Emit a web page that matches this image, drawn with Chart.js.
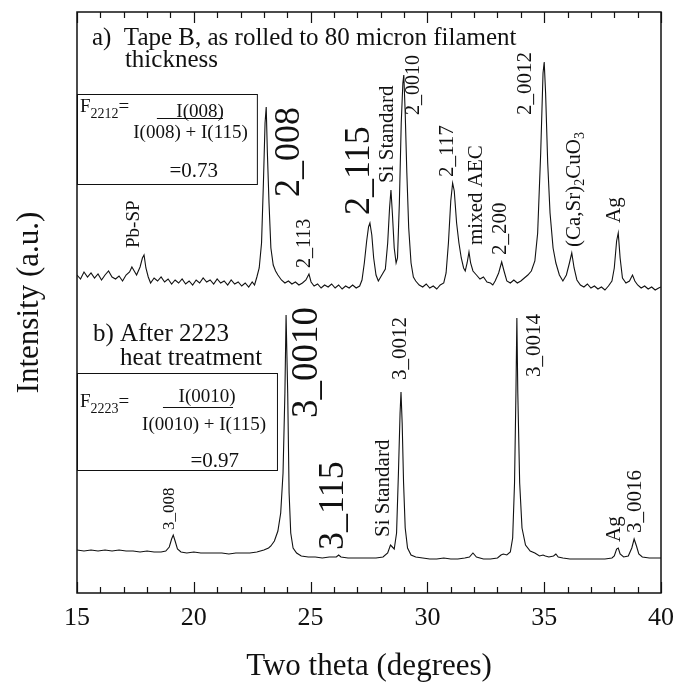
<!DOCTYPE html>
<html>
<head>
<meta charset="utf-8">
<script src="https://cdn.jsdelivr.net/npm/chart.js@4.4.1/dist/chart.umd.min.js"></script>
<style>
  html, body { margin: 0; padding: 0; background: #fff; }
  #wrap { width: 689px; height: 683px; }
</style>
</head>
<body>
<div id="wrap"><canvas id="grafico" width="689" height="683"></canvas></div>
<script>
// a) tape B as rolled (2212 phase) - offset up
const twoThetaA = [
  15.0, 15.15, 15.3, 15.45, 15.6, 15.75, 15.9, 16.05, 16.2, 16.35, 16.5, 16.65, 16.8, 16.95, 17.1, 17.25, 17.35, 17.45, 17.55, 17.7,
  17.8, 17.87, 17.95, 18.05, 18.15, 18.3, 18.45, 18.6, 18.75, 18.9, 19.05, 19.2, 19.35, 19.5, 19.65, 19.8, 19.95, 20.1, 20.25, 20.4,
  20.55, 20.7, 20.85, 21.0, 21.15, 21.3, 21.45, 21.6, 21.75, 21.9, 22.05, 22.2, 22.35, 22.5, 22.6, 22.7, 22.8, 22.9, 22.98, 23.05,
  23.1, 23.15, 23.22, 23.3, 23.4, 23.5, 23.6, 23.75, 23.9, 24.05, 24.2, 24.35, 24.5, 24.65, 24.8, 24.93, 25.02, 25.15, 25.3, 25.45,
  25.6, 25.75, 25.9, 26.05, 26.2, 26.35, 26.5, 26.65, 26.8, 26.95, 27.1, 27.2, 27.3, 27.4, 27.48, 27.54, 27.62, 27.7, 27.8, 27.9,
  28.0, 28.1, 28.2, 28.3, 28.38, 28.44, 28.5, 28.58, 28.66, 28.72, 28.8, 28.88, 28.95, 28.99, 29.05, 29.12, 29.2, 29.3, 29.4, 29.5,
  29.65, 29.8, 29.95, 30.1, 30.25, 30.4, 30.55, 30.7, 30.8, 30.9, 31.0, 31.08, 31.15, 31.25, 31.35, 31.45, 31.55, 31.62, 31.7, 31.78,
  31.85, 31.95, 32.1, 32.25, 32.4, 32.55, 32.7, 32.8, 32.9, 33.05, 33.18, 33.28, 33.4, 33.55, 33.7, 33.85, 34.0, 34.15, 34.3, 34.45,
  34.6, 34.72, 34.85, 34.95, 35.0, 35.06, 35.15, 35.25, 35.38, 35.5, 35.65, 35.8, 35.95, 36.08, 36.18, 36.28, 36.4, 36.55, 36.7, 36.85,
  37.0, 37.15, 37.3, 37.45, 37.6, 37.75, 37.9, 38.0, 38.1, 38.17, 38.25, 38.35, 38.5, 38.65, 38.78, 38.88, 39.0, 39.15, 39.3, 39.45,
  39.6, 39.75, 39.9, 40.0
];
const intensityA = [
  318, 314, 321, 316, 320, 315, 319, 313, 318, 322, 316, 314, 317, 312, 318, 321, 326, 322, 318, 326,
  335, 338, 325, 316, 310, 315, 312, 316, 311, 314, 309, 313, 310, 314, 309, 312, 308, 313, 310, 315,
  311, 313, 309, 314, 310, 312, 308, 313, 309, 311, 307, 310, 306, 311, 308, 316, 325, 350, 410, 470,
  486, 440, 390, 345, 328, 322, 318, 313, 310, 312, 309, 311, 308, 310, 313, 319, 311, 307, 309, 305,
  308, 306, 309, 305, 308, 304, 307, 305, 308, 305, 307, 313, 330, 352, 366, 370, 358, 335, 318, 312,
  316, 320, 324, 350, 385, 403, 380, 345, 330, 335, 390, 470, 510, 518, 480, 420, 365, 330, 316, 312,
  308, 306, 309, 305, 307, 304, 308, 310, 320, 350, 392, 410, 402, 370, 350, 335, 325, 322, 330, 341,
  330, 322, 318, 314, 316, 311, 310, 308, 312, 320, 331, 322, 312, 310, 313, 310, 312, 315, 318, 322,
  332, 360, 440, 520, 531, 500, 430, 380, 345, 330, 318, 312, 318, 330, 340, 325, 313, 308, 306, 309,
  305, 307, 304, 306, 303, 307, 312, 325, 352, 360, 335, 315, 310, 312, 318, 312, 308, 305, 307, 304,
  306, 303, 305, 306
];

// b) after 2223 heat treatment
const twoThetaB = [
  15.0, 15.3, 15.6, 15.9, 16.2, 16.5, 16.8, 17.1, 17.4, 17.7, 18.0, 18.3, 18.6, 18.8, 18.95, 19.05, 19.12, 19.2, 19.3, 19.45,
  19.7, 20.0, 20.3, 20.6, 20.9, 21.2, 21.5, 21.8, 22.1, 22.4, 22.7, 23.0, 23.2, 23.3, 23.45, 23.6, 23.72, 23.82, 23.9, 23.95,
  24.02, 24.08, 24.15, 24.25, 24.4, 24.6, 24.9, 25.2, 25.5, 25.8, 26.1, 26.2, 26.3, 26.6, 26.9, 27.2, 27.5, 27.8, 28.1, 28.3,
  28.42, 28.5, 28.58, 28.68, 28.76, 28.83, 28.87, 28.92, 28.98, 29.05, 29.15, 29.3, 29.5, 29.8, 30.1, 30.4, 30.7, 31.0, 31.3, 31.6,
  31.8, 31.95, 32.1, 32.4, 32.7, 33.0, 33.15, 33.25, 33.4, 33.55, 33.65, 33.73, 33.79, 33.83, 33.87, 33.95, 34.05, 34.2, 34.4, 34.6,
  34.8, 34.95, 35.05, 35.2, 35.4, 35.5, 35.6, 35.8, 36.1, 36.4, 36.7, 37.0, 37.3, 37.6, 37.9, 38.0, 38.1, 38.17, 38.25, 38.4,
  38.6, 38.75, 38.85, 38.95, 39.05, 39.2, 39.5, 39.8, 40.0
];
const intensityB = [
  43, 42, 43, 42, 43, 42, 43, 42, 42, 41, 42, 41, 41, 42, 46, 54, 58, 52, 44, 41,
  40, 41, 40, 40, 40, 40, 39, 40, 40, 40, 41, 43, 45, 47, 52, 62, 80, 120, 200, 278,
  200, 100, 60, 45, 40, 37, 36, 36, 35, 36, 36, 38, 36, 35, 35, 35, 35, 35, 36, 40,
  48, 46, 44, 60, 120, 180, 201, 170, 110, 65, 45, 38, 36, 35, 34, 34, 35, 34, 34, 35,
  36, 40, 36, 34, 34, 35, 38, 39, 38, 41, 55, 110, 200, 275, 200, 110, 65, 48, 42, 40,
  37, 38, 37, 36, 37, 39, 36, 35, 34, 34, 34, 34, 34, 34, 35, 37, 44, 45, 39, 36,
  37, 45, 54, 47, 39, 36, 35, 35, 35
];

const xTickValues = [15, 20, 25, 30, 35, 40];
const xMinorTicks = [16, 17, 18, 19, 21, 22, 23, 24, 26, 27, 28, 29, 31, 32, 33, 34, 36, 37, 38, 39];

const SERIF = "'Liberation Serif', 'Times New Roman', serif";
const INK = '#111';

// peak labels, written bottom-to-top: x = centre (deg), y = lower end (a.u.)
const peakLabels = [
  { parts: ['Pb-SP'], x: 17.44, y: 345, size: 19 },
  { parts: ['2_008'], x: 24.08, y: 396, size: 36 },
  { parts: ['2_113'], x: 24.76, y: 325, size: 20 },
  { parts: ['2_115'], x: 27.11, y: 378, size: 36 },
  { parts: ['Si Standard'], x: 28.27, y: 410, size: 21 },
  { parts: ['2_0010'], x: 29.43, y: 478, size: 20 },
  { parts: ['2_117'], x: 30.88, y: 416, size: 21 },
  { parts: ['mixed AEC'], x: 32.08, y: 348, size: 21 },
  { parts: ['2_200'], x: 33.11, y: 338, size: 21 },
  { parts: ['2_0012'], x: 34.18, y: 478, size: 21 },
  { parts: ['(Ca,Sr)', '_2', 'CuO', '_3'], x: 36.28, y: 346, size: 21 },
  { parts: ['Ag'], x: 38.03, y: 370, size: 21 },
  { parts: ['3_008'], x: 18.94, y: 63, size: 17 },
  { parts: ['3_0010'], x: 24.85, y: 175, size: 37 },
  { parts: ['3_115'], x: 26.0, y: 43, size: 36 },
  { parts: ['Si Standard'], x: 28.1, y: 56, size: 21 },
  { parts: ['3_0012'], x: 28.83, y: 213, size: 21 },
  { parts: ['3_0014'], x: 34.6, y: 216, size: 21 },
  { parts: ['Ag'], x: 37.99, y: 51, size: 21 },
  { parts: ['3_0016'], x: 38.89, y: 60, size: 21 }
];

// horizontal notes on the baseline
const notes = [
  { text: 'a)  Tape B, as rolled to 80 micron filament', x: 15.64, y: 548, size: 25, align: 'left' },
  { text: 'thickness', x: 17.05, y: 526, size: 25, align: 'left' },
  { text: 'b) After 2223', x: 15.68, y: 252, size: 25, align: 'left' },
  { text: 'heat treatment', x: 16.84, y: 228, size: 25, align: 'left' },
  { text: 'I(008)', x: 20.27, y: 476, size: 19, align: 'center' },
  { text: 'I(008) + I(115)', x: 19.86, y: 455, size: 19, align: 'center' },
  { text: '=0.73', x: 20.0, y: 416, size: 21, align: 'center' },
  { text: 'I(0010)', x: 20.57, y: 191, size: 19, align: 'center' },
  { text: 'I(0010) + I(115)', x: 20.44, y: 163, size: 19, align: 'center' },
  { text: '=0.97', x: 20.9, y: 126, size: 21, align: 'center' }
];
const fractions = [
  { x0: 15.13, y: 481, sub: '2212' },
  { x0: 15.13, y: 186, sub: '2223' }
];
const fracLines = [
  { x1: 18.42, x2: 21.25, y: 475 },
  { x1: 18.68, x2: 21.68, y: 186 }
];
const boxes = [
  { x1: 15.0, x2: 22.7, y1: 499, y2: 409 },
  { x1: 15.0, x2: 23.56, y1: 220, y2: 123 }
];

function drawParts(ctx, parts, size) {
  let dx = 0;
  parts.forEach(p => {
    if (p.startsWith('_') && p.length === 2) {
      const s = Math.round(size * 0.65);
      ctx.font = s + 'px ' + SERIF;
      ctx.fillText(p.slice(1), dx, size * 0.28);
      dx += ctx.measureText(p.slice(1)).width;
    } else {
      ctx.font = size + 'px ' + SERIF;
      ctx.fillText(p, dx, 0);
      dx += ctx.measureText(p).width;
    }
  });
}

const annotPlugin = {
  id: 'annot',
  afterDraw(chart) {
    const ctx = chart.ctx;
    const xs = chart.scales.x, ys = chart.scales.y;
    const a = chart.chartArea;
    ctx.save();
    ctx.strokeStyle = INK;
    ctx.fillStyle = INK;

    // frame
    ctx.lineWidth = 1.5;
    ctx.strokeRect(a.left, a.top, a.right - a.left, a.bottom - a.top);

    // inward ticks top and bottom
    ctx.lineWidth = 1.2;
    const tick = (v, len) => {
      const px = Math.round(xs.getPixelForValue(v)) + 0.5;
      ctx.beginPath();
      ctx.moveTo(px, a.bottom); ctx.lineTo(px, a.bottom - len);
      ctx.moveTo(px, a.top); ctx.lineTo(px, a.top + len);
      ctx.stroke();
    };
    xTickValues.forEach(v => tick(v, 11));
    xMinorTicks.forEach(v => tick(v, 6));

    // boxes + fraction bars
    ctx.lineWidth = 1;
    boxes.forEach(b => {
      const x1 = xs.getPixelForValue(b.x1), x2 = xs.getPixelForValue(b.x2);
      const y1 = ys.getPixelForValue(b.y1), y2 = ys.getPixelForValue(b.y2);
      ctx.strokeRect(x1 + 0.5, y1 + 0.5, x2 - x1, y2 - y1);
    });
    fracLines.forEach(l => {
      const y = Math.round(ys.getPixelForValue(l.y)) + 0.5;
      ctx.beginPath();
      ctx.moveTo(xs.getPixelForValue(l.x1), y);
      ctx.lineTo(xs.getPixelForValue(l.x2), y);
      ctx.stroke();
    });

    // F_xxxx=
    ctx.textBaseline = 'alphabetic';
    ctx.textAlign = 'left';
    fractions.forEach(f => {
      ctx.save();
      ctx.translate(xs.getPixelForValue(f.x0), ys.getPixelForValue(f.y));
      ctx.font = '19px ' + SERIF;
      ctx.fillText('F', 0, 0);
      const fw = ctx.measureText('F').width;
      ctx.font = '14px ' + SERIF;
      ctx.fillText(f.sub, fw, 6);
      const sw = ctx.measureText(f.sub).width;
      ctx.font = '19px ' + SERIF;
      ctx.fillText('=', fw + sw, 0);
      ctx.restore();
    });

    notes.forEach(n => {
      ctx.font = n.size + 'px ' + SERIF;
      ctx.textAlign = n.align;
      ctx.fillText(n.text, xs.getPixelForValue(n.x), ys.getPixelForValue(n.y));
    });

    // rotated peak labels
    ctx.textAlign = 'left';
    ctx.textBaseline = 'middle';
    peakLabels.forEach(l => {
      ctx.save();
      ctx.translate(xs.getPixelForValue(l.x), ys.getPixelForValue(l.y));
      ctx.rotate(-Math.PI / 2);
      drawParts(ctx, l.parts, l.size);
      ctx.restore();
    });
    ctx.restore();
  }
};

const config = {
  type: 'line',
  data: {
    datasets: [
      {
        label: 'a) Tape B, as rolled',
        data: twoThetaA.map((t, i) => ({ x: t, y: intensityA[i] })),
        borderColor: INK, borderWidth: 1.1, pointRadius: 0, tension: 0
      },
      {
        label: 'b) After 2223 heat treatment',
        data: twoThetaB.map((t, i) => ({ x: t, y: intensityB[i] })),
        borderColor: INK, borderWidth: 1.1, pointRadius: 0, tension: 0
      }
    ]
  },
  options: {
    responsive: false,
    animation: false,
    devicePixelRatio: 1,
    layout: { padding: { top: 12, right: 28, left: 0, bottom: 0 } },
    plugins: { legend: { display: false }, tooltip: { enabled: false } },
    scales: {
      x: {
        type: 'linear',
        min: 15, max: 40,
        afterFit: s => { s.height = 90; },
        afterBuildTicks: s => { s.ticks = xTickValues.map(v => ({ value: v })); },
        grid: { display: false, drawTicks: false },
        border: { display: false },
        ticks: { color: INK, padding: 10, maxRotation: 0, font: { family: SERIF, size: 26 } },
        title: { display: true, text: 'Two theta (degrees)', color: INK, padding: { top: 0, bottom: 1 },
                 font: { family: SERIF, size: 31, lineHeight: 1 } }
      },
      y: {
        min: 0, max: 581,
        afterFit: s => { s.width = 77; },
        grid: { display: false, drawTicks: false },
        border: { display: false },
        ticks: { display: false },
        title: { display: true, text: 'Intensity (a.u.)', color: INK, padding: { top: 14, bottom: 0 },
                 font: { family: SERIF, size: 31, lineHeight: 1 } }
      }
    }
  },
  plugins: [annotPlugin]
};

const ctx = document.getElementById('grafico').getContext('2d');
const grafico = new Chart(ctx, config);
</script>
</body>
</html>
